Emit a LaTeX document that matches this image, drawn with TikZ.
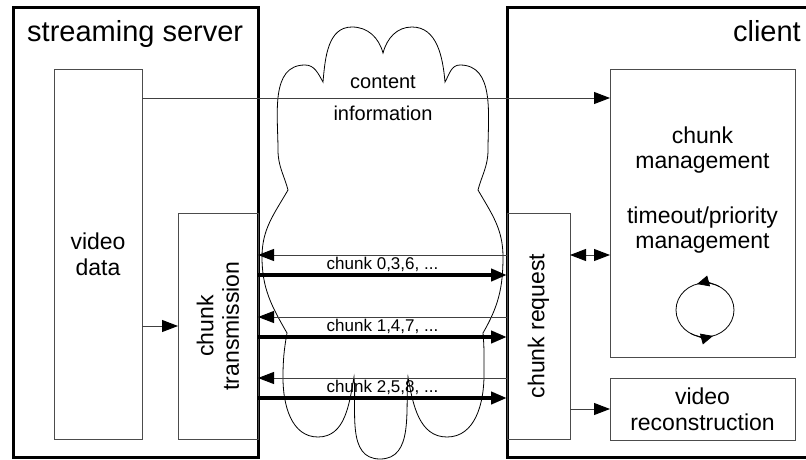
\documentclass[tikz,border=0pt]{standalone}
\usepackage{fontspec}
\setmainfont{Liberation Sans}
\usetikzlibrary{arrows.meta}

\begin{document}
\begin{tikzpicture}[x=1pt,y=1pt,
  >={Triangle[length=16pt,width=12pt,color=black]},
  frame/.style={draw,line width=3pt,inner sep=0pt,outer sep=0pt},
  box/.style={draw=black!70,line width=0.9pt,inner sep=0pt,outer sep=0pt,
    align=center,font=\fontsize{23}{26}\selectfont},
  txt/.style={inner sep=0pt,align=center,font=\fontsize{23}{25.5}\selectfont},
  thin arrow/.style={draw=black!75,line width=0.9pt,->},
  flow/.style={line width=4pt,->},
  lbl/.style={font=\fontsize{17}{20}\selectfont,inner sep=1pt}]
  \useasboundingbox (0,0) rectangle (806,-460);
  \clip (0,0) rectangle (806,-460);

  % the network cloud
  \draw[line width=0.8pt] (287,-333)
    to[out=120,in=-90] (262,-257) to[out=90,in=-120] (288,-190)
    to[out=105,in=-90] (278,-150) to[out=90,in=180] (305,-65)
    to[out=0,in=120] (323,-82)
    to[out=85,in=180] (352,-27) to[out=0,in=105] (383,-53)
    to[out=75,in=180] (412,-27) to[out=0,in=95] (445,-82)
    to[out=60,in=180] (460,-65) to[out=0,in=90] (488,-150)
    to[out=-90,in=75] (478,-190)
    to[out=-60,in=90] (503,-257) to[out=-90,in=60] (483,-333)
    to[out=-85,in=90] (484,-375) to[out=-90,in=0] (447,-437)
    to[out=180,in=-80] (408,-377)
    to[out=-95,in=0] (380,-459) to[out=180,in=-85] (354,-377)
    to[out=-100,in=0] (318,-437) to[out=180,in=-90] (283,-378)
    to[out=90,in=-100] (287,-333);

  % server and client
  \node[frame,minimum width=245pt,minimum height=449pt] (ss) at (135.5,-232.5) {};
  \node[frame,minimum width=305pt,minimum height=449pt] (cl) at (659.5,-232.5) {};
  \node[anchor=base west,inner sep=0pt,font=\fontsize{29}{32}\selectfont] (sst) at (27,-42) {streaming server};
  \node[anchor=base east,inner sep=0pt,font=\fontsize{29}{32}\selectfont] (clt) at (801,-42) {client};

  \node[box,minimum width=88pt,minimum height=370pt] (vd) at (98,-254) {video\\data};
  \node[box,minimum width=80pt,minimum height=226pt] (ct) at (218,-326) {};
  \node[txt,rotate=90] (ctt) at (ct) {chunk\\transmission};

  \node[box,minimum width=63pt,minimum height=226pt] (cr) at (538.5,-326) {};
  \node[txt,rotate=90] (crt) at (cr) {chunk request};
  \node[box,minimum width=185pt,minimum height=288pt] (cm) at (702.5,-213) {};
  \node[txt,anchor=north] (cmt) at (702.5,-126.5) {chunk\\management\\[29pt]timeout/priority\\management};
  \node[box,minimum width=185pt,minimum height=62pt] (vr) at (702.5,-409) {video\\reconstruction};

  % loop inside chunk management
  \coordinate (lp) at (705,-310);
  \draw[line width=0.8pt] (lp) ellipse [x radius=29pt,y radius=27pt];
  \draw[line width=0.8pt,-{Triangle[length=12pt,width=11pt]}] ([shift={(60:29pt and 27pt)}]lp)
    arc[start angle=60,end angle=106,x radius=29pt,y radius=27pt];
  \draw[line width=0.8pt,-{Triangle[length=12pt,width=11pt]}] ([shift={(240:29pt and 27pt)}]lp)
    arc[start angle=240,end angle=286,x radius=29pt,y radius=27pt];

  % content information
  \draw[thin arrow] ([yshift=-29pt]vd.north east) -- ([yshift=-29pt]cm.north west);
  \node[align=center,inner sep=0pt,font=\fontsize{20}{24}\selectfont] (ci) at (383,-98) {content\\[8pt]information};

  \draw[thin arrow] (vd.east |- ct.west) -- (ct.west);
  \coordinate (q) at (0,-255);
  \draw[thin arrow,<->] (cr.east |- q) -- (cm.west |- q);
  \draw[thin arrow] (cr.east |- vr.west) -- (vr.west);

  % requests and chunks
  \foreach \y/\lab [count=\i] in {255/{0,3,6}, 317/{1,4,7}, 378/{2,5,8}} {
    \coordinate (rq\i) at (0,-\y);
    \coordinate (ch\i) at (0,-\y-20);
    \draw[thin arrow] (cr.west |- rq\i) -- (ct.east |- rq\i);
    \draw[flow] (ct.east |- ch\i) -- node[lbl,above] {chunk \lab, ...} (cr.west |- ch\i);
  }
\end{tikzpicture}
\end{document}
